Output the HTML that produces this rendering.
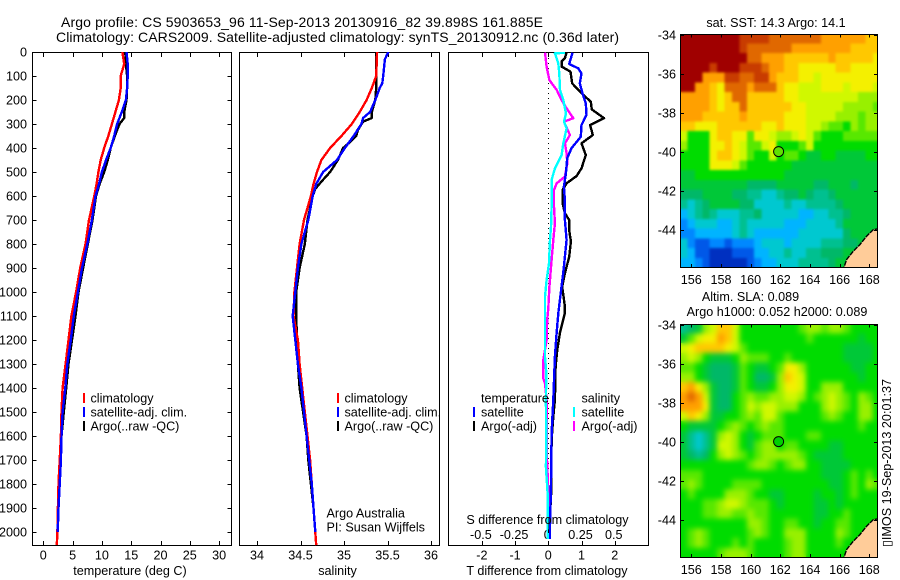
<!DOCTYPE html>
<html lang="en">
<head>
<meta charset="utf-8">
<title>Argo profile chart</title>
<style>
html,body{margin:0;padding:0;background:#fff;width:900px;height:580px;overflow:hidden}
svg{display:block}
text{font-family:"Liberation Sans",sans-serif;font-size:12.6px;fill:#000}
.ttl{font-size:14px}
.frame{fill:none;stroke:#000;stroke-width:1;shape-rendering:crispEdges}
.tick{stroke:#000;stroke-width:1;shape-rendering:crispEdges}
.line{fill:none;stroke-width:2.4;shape-rendering:crispEdges;stroke-linejoin:round}
</style>
</head>
<body>
<svg id="chart" width="900" height="580" viewBox="0 0 900 580" xmlns="http://www.w3.org/2000/svg">
<defs>
<clipPath id="clip-sst"><rect x="680" y="34" width="198" height="233"/></clipPath>
<clipPath id="clip-sla"><rect x="680" y="324" width="198" height="233"/></clipPath>
<clipPath id="clip-p1"><rect x="32" y="52" width="200" height="494"/></clipPath>
<clipPath id="clip-p2"><rect x="239" y="52" width="201" height="494"/></clipPath>
<clipPath id="clip-p3"><rect x="448" y="52" width="201" height="494"/></clipPath>
<filter id="soft-sst" filterUnits="userSpaceOnUse" x="670" y="24" width="220" height="255" color-interpolation-filters="sRGB">
<feGaussianBlur stdDeviation="1.2" result="b"/>
<feMerge><feMergeNode in="SourceGraphic"/><feMergeNode in="b"/></feMerge>
</filter>
<filter id="soft-sla" filterUnits="userSpaceOnUse" x="670" y="314" width="220" height="255" color-interpolation-filters="sRGB">
<feGaussianBlur stdDeviation="2.6" result="b"/>
<feMerge><feMergeNode in="SourceGraphic"/><feMergeNode in="b"/></feMerge>
</filter>
</defs>

<text class="ttl" x="61" y="27" textLength="482">Argo profile: CS 5903653_96 11-Sep-2013 20130916_82 39.898S 161.885E</text>
<text class="ttl" x="56" y="42" textLength="563">Climatology: CARS2009. Satellite-adjusted climatology: synTS_20130912.nc (0.36d later)</text>

<g id="layer-p1"></g>
<g id="layer-p2"></g>
<g id="layer-p3"></g>
<g id="layer-sst"></g>
<g id="layer-sla"></g>

<text x="130" y="575" text-anchor="middle">temperature (deg C)</text>
<text x="337.500" y="575" text-anchor="middle">salinity</text>
<text x="547" y="575" text-anchor="middle">T difference from climatology</text>
<text x="547.500" y="524" text-anchor="middle">S difference from climatology</text>

<g>
<rect x="83" y="393" width="2" height="10" fill="#ff0000"/>
<rect x="83" y="407" width="2" height="10" fill="#0000ff"/>
<rect x="83" y="421" width="2" height="10" fill="#000"/>
<text x="90.500" y="402.500">climatology</text>
<text x="90.500" y="416.500">satellite-adj. clim.</text>
<text x="90.500" y="430.500">Argo(..raw -QC)</text>
</g>
<g>
<rect x="337" y="393" width="2" height="10" fill="#ff0000"/>
<rect x="337" y="407" width="2" height="10" fill="#0000ff"/>
<rect x="337" y="421" width="2" height="10" fill="#000"/>
<text x="344.500" y="402.500">climatology</text>
<text x="344.500" y="416.500">satellite-adj. clim.</text>
<text x="344.500" y="430.500">Argo(..raw -QC)</text>
<text x="326.500" y="517.500">Argo Australia</text>
<text x="326.500" y="531.500">PI: Susan Wijffels</text>
</g>
<g>
<text x="481" y="402.500">temperature</text>
<rect x="473" y="407" width="2" height="10" fill="#0000ff"/>
<rect x="473" y="421" width="2" height="10" fill="#000"/>
<text x="481" y="416.500">satellite</text>
<text x="481" y="430.500">Argo(-adj)</text>
<text x="581.500" y="402.500">salinity</text>
<rect x="573" y="407" width="2" height="10" fill="#00ffff"/>
<rect x="573" y="421" width="2" height="10" fill="#ff00ff"/>
<text x="581.500" y="416.500">satellite</text>
<text x="581.500" y="430.500">Argo(-adj)</text>
</g>

<text x="776" y="27" text-anchor="middle">sat. SST: 14.3 Argo: 14.1</text>
<text x="750.500" y="301" text-anchor="middle">Altim. SLA: 0.089</text>
<text x="777" y="316" text-anchor="middle">Argo h1000: 0.052 h2000: 0.089</text>
<text transform="translate(891 547) rotate(-90)">▯IMOS 19-Sep-2013 20:01:37</text>
</svg>

<script>
// ---------- chart data ----------
const depthTicks = [0,100,200,300,400,500,600,700,800,900,1000,1100,1200,1300,1400,1500,1600,1700,1800,1900,2000];
const tempTicks = [0,5,10,15,20,25,30];
const salTicks = [34,34.5,35,35.5,36];
const dTempTicks = [-2,-1,0,1,2];
const dSalTicks = [-0.5,-0.25,0,0.25,0.5];
const lonTicks = [156,158,160,162,164,166,168];
const latTicks = [-34,-36,-38,-40,-42,-44];

const tempClimDepth = [0,50,100,150,200,250,300,350,400,450,500,550,600,700,800,900,1000,1100,1200,1300,1400,1500,1600,1700,1800,1900,2000,2055];
const tempClim = [13.5,13.8,13.2,13.2,12.9,12.3,11.7,11.1,10.4,9.8,9.4,9.1,8.7,7.8,7.2,6.3,5.6,4.8,4.3,3.8,3.3,3.1,3.0,2.8,2.6,2.5,2.4,2.3];
const tempSatDepth = [0,50,100,150,200,250,300,350,400,450,500,550,600,700,800,900,1000,1100,1200,1300,1400,1500,1600,1700,1800,1900,2000];
const tempSat = [14.2,14.4,14.4,14.3,14.1,13.4,12.6,12.1,11.5,10.7,10.0,9.5,8.9,8.3,7.5,6.6,5.9,5.2,4.7,4.1,3.75,3.3,3.1,3.0,2.8,2.6,2.45];
const tempArgoDepth = [0,50,100,150,200,250,275,300,350,400,450,500,550,600,700,800,900,1000,1100,1200,1300,1400,1500,1600,1700,1800,1900,2000];
const tempArgo = [14.0,14.1,14.3,14.3,14.2,13.8,13.8,13.0,12.2,11.5,11.0,10.4,9.6,9.0,8.4,7.6,6.8,6.0,5.5,4.9,4.3,3.9,3.5,3.1,3.0,2.8,2.6,2.45];

const salClimDepth = [0,100,130,150,200,250,300,350,400,450,500,550,600,700,800,900,1000,1100,1200,1300,1400,1500,1600,1700,1800,1900,2000,2055];
const salClim = [35.38,35.37,35.34,35.32,35.26,35.18,35.09,34.97,34.84,34.74,34.69,34.65,34.62,34.54,34.49,34.46,34.43,34.42,34.47,34.49,34.52,34.55,34.58,34.61,34.63,34.65,34.67,34.68];
const salSatDepth = [0,30,100,130,150,200,250,275,300,350,400,450,500,550,600,700,800,900,1000,1100,1200,1300,1400,1500,1600,1700,1800,1900,2000];
const salSat = [35.51,35.47,35.45,35.44,35.41,35.36,35.30,35.22,35.20,35.11,35.01,34.92,34.76,34.68,34.64,34.59,34.51,34.47,34.44,34.41,34.44,34.47,34.51,34.54,34.57,34.60,34.63,34.65,34.67];
const salArgoDepth = [0,100,150,200,250,275,290,325,350,375,400,450,500,540,570,600,700,800,900,1000,1100,1200,1300,1400,1500,1600,1700,1800,1900,2000];
const salArgo = [35.37,35.37,35.37,35.36,35.32,35.32,35.22,35.16,35.14,35.07,34.99,34.93,34.84,34.74,34.67,34.64,34.58,34.55,34.49,34.45,34.45,34.46,34.47,34.49,34.53,34.57,34.59,34.62,34.65,34.67];

const dTempArgoDepth = [3,26,40,61,82,131,172,207,239,276,304,346,381,429,485,517,547,575,631,672,700,742,790,853,922,978,1061,1088,1116,1171,1241,1310,1449,1519,1616,1824,1935,2005];
const dTempArgo = [0.55,0.5,0.4,0.4,0.67,0.72,1.0,1.28,1.31,1.68,1.26,1.34,1.0,1.13,1.0,0.85,0.55,0.43,0.43,0.5,0.63,0.63,0.68,0.63,0.5,0.42,0.5,0.5,0.45,0.35,0.27,0.22,0.2,0.15,0.1,0.09,0.05,0.03];
const dTempSatDepth = [3,50,68,89,131,172,214,262,304,353,401,443,506,561,617,700,783,853,922,1033,1089,1172,1269,1449,1588,1796,1977,2030];
const dTempSat = [0.73,0.63,0.9,1.0,0.95,1.03,1.13,1.15,1.0,0.98,0.7,0.57,0.53,0.47,0.5,0.5,0.55,0.5,0.45,0.35,0.3,0.25,0.2,0.15,0.1,0.08,0.05,0.05];
const dSalSatDepth = [3,6,47,89,158,200,256,290,318,381,429,485,533,644,728,783,881,950,1019,1068,1269,1339,1449,1644,1727,1838,1991,2030];
const dSalSat = [0.125,0.05,0.075,0.083,0.088,0.113,0.133,0.118,0.138,0.113,0.1,0.05,0.025,0.025,0.02,0.013,0.005,-0.013,-0.025,-0.025,-0.025,-0.015,-0.018,-0.015,-0.018,-0.005,-0.005,-0.005];
const dSalArgoDepth = [3,61,117,158,200,235,276,290,346,381,422,464,519,547,575,644,714,783,867,978,1068,1116,1200,1283,1359,1380,1449,1658,1830,1991];
const dSalArgo = [-0.025,-0.013,0.008,0.063,0.1,0.138,0.188,0.118,0.163,0.125,0.138,0.143,0.125,0.063,0.043,0.043,0.05,0.038,0.025,0.008,0,-0.008,-0.013,-0.038,-0.038,-0.025,-0.013,-0.013,0,0];

// map cells: one letter = one colour level, each cell 0.5 deg
const sstRows = [
"aaaaaaaabbbbcccccccddddddee","aaaaaaaabccccccddddddddeeee","aaaaaaaaaccdddeeeeeedeeeeef","aaaabaaabbbcddeefffffeeffff",
"aaadddbbccbbdeeeffgffffffff","aaddefcccdccceffgggfffgfffg","ddddefecceeeeeffgggggggghhh","ddddefeeceeeeeeffggggghhhhi",
"dddeeeeedeeeeefffgggghhhihh","eefffeeeeeeffefffgghiijhihh","gjjjfeeffiffghhgfgijjjiiiii","hjjjffefgiigfjjjigjjjjjjjjj",
"jjjjfeefgijjgjiijkkjjkkkkjj","jjjjfffgijjjjjjkkkkkkkkkkkk","kkjjjjjjjjjjjjkkkkkkkkkkkkk","kkkkkkkkkllllkkkkkllkkklkkk",
"lllkkkkllmmnnmllklmmlkkkkkk","mnmlkkkkllnnnnmnnmmmmlkkkkk","onmlmnnnmmlnnnnnoonnmmlkkkk","ponnnoonmnnnnnooonnnnmkkkkk",
"ppooooonmnoooooonnnnnnlkkkk","npqqppqpppOnnnonnnnmmmllkkk".toLowerCase(),"noqqrrrqqqoonnmnnmmlllkkkkk","oopqrrrrrqpoonnnmmmmlkkkkkk"];
const slaRows = [
"mlkhgeegjjjjjjjjihhihhijjjj","kigffdegjjjjjjjjjijjjjjjkjj","gfeeeefgijjjjjjjjjjjjjkkkkj","hghjkkkjhiiijjijjjjjjjkkkkj",
"iijklllkijkkjiffhjjjjjjkkjj","hhjklllkijllkhefgjjjjjjjkjj","edfhkllkijkkjhffgjjhhhjjjjj","dcdgklljihiihhgghjihghijhij",
"dddfklljighgghhhjjjhghijhhj","gefhkkjjihiggijjjjjihijjhhj","jkkkkjihijihiijjjjjjjjjjijj","kmnmkhghjkjiiijjjiijjjjjjjj",
"kmnmkgghjkihhjiijjjjkkjjjjj","klmljhghijihhhhhijkkkkjjjjj","jjjjjjjjjihhijihhjjkkkkjjjj","iiijjjjjjjjjjjjjjjjkkkjijij",
"ihijjjjiiiijjjjjjjjjkkjijhi","jijjjjhhhijjkkjjjjkjjkjijjj","jjjiihgghiiijkjjjjkkjkjjjjj","jjjiihhiihiijjjjjjkkjjijjjj",
"jjjjjjjjjhhijjiijjkjjiijjjj","jihijjjjjihijjhhhjjjjhijjjj","jihijjjijijjjjihhjjjjijjjjj","jjjjjihhhijjjjihhjjjjjjjjjj"];
const coastLon = [168.7,168.27,167.82,167.37,166.92,166.47,166.29];
const coastLat = [-43.93,-43.98,-44.32,-44.75,-45.09,-45.52,-45.93];
const argoLon = 161.885;
const argoLat = -39.98;

// ---------- colours ----------
const palette = {a:'#a00000',b:'#c83c00',c:'#e06800',d:'#ffa000',e:'#ffc800',f:'#f4f000',g:'#d0f800',h:'#98f000',i:'#58e800',j:'#00dc00',k:'#00c838',l:'#00b868',m:'#00c090',n:'#00c8d0',o:'#00b4ff',p:'#0088ff',q:'#0058e8',r:'#0030c0'};

// ---------- axis functions ----------
const yDepth = d => 52 + d * 0.24;
const xTemp = t => 43.3 + t * 5.86;
const xSal = s => 257 + (s - 34) * 87;
const xDT = t => 548.3 + t * 33.2;
const xDS = s => 548.3 + s * 132.8;
const xLon = lon => 691.3 + (lon - 156) * 14.83;
const ySst = lat => 35 + (-34 - lat) * 19.5;
const ySla = lat => 325 + (-34 - lat) * 19.5;

const NS = 'http://www.w3.org/2000/svg';
function make(tag, parent, name, attrs) {
  const el = document.createElementNS(NS, tag);
  
  
  for (const k in attrs) el.setAttribute(k, attrs[k]);
  parent.appendChild(el);
  return el;
}
function label(parent, name, x, y, str, anchor) {
  const t = make('text', parent, name, {x: x, y: y, 'text-anchor': anchor});
  t.textContent = str;
}
function tick(parent, name, x1, y1, x2, y2) {
  make('line', parent, name, {class: 'tick', x1: x1, y1: y1, x2: x2, y2: y2});
}
function series(parent, name, depths, values, xf, color, clip) {
  const pts = values.map((v, i) => xf(v).toFixed(1) + ',' + yDepth(depths[i]).toFixed(1)).join(' ');
  make('polyline', parent, name, {class: 'line', points: pts, stroke: color, 'clip-path': 'url(#' + clip + ')'});
}
function frame(parent, x, y, w, h) {
  make('rect', parent, 'panel-frame', {class: 'frame', x: x, y: y, width: w, height: h});
}

// ---------- temperature panel ----------
const p1 = document.getElementById('layer-p1');
frame(p1, 32.5, 52.5, 199, 493);
depthTicks.forEach(d => {
  const y = Math.round(yDepth(d)) + 0.5;
  tick(p1, 'depth-tick', 32.5, y, 36.5, y);
  tick(p1, 'depth-tick', 227.5, y, 231.5, y);
  label(p1, 'depth-tick-label', 27, yDepth(d) + 4.5, String(d), 'end');
});
tempTicks.forEach(t => {
  const x = Math.round(xTemp(t)) + 0.5;
  tick(p1, 'temperature-tick', x, 52.5, x, 57);
  tick(p1, 'temperature-tick', x, 541, x, 545.5);
  label(p1, 'temperature-tick-label', xTemp(t), 559.5, String(t), 'middle');
});
series(p1, 'temperature-argo-line', tempArgoDepth, tempArgo, xTemp, '#000', 'clip-p1');
series(p1, 'temperature-climatology-line', tempClimDepth, tempClim, xTemp, '#ff0000', 'clip-p1');
series(p1, 'temperature-satellite-line', tempSatDepth, tempSat, xTemp, '#0000ff', 'clip-p1');

// ---------- salinity panel ----------
const p2 = document.getElementById('layer-p2');
frame(p2, 239.5, 52.5, 200, 493);
salTicks.forEach(s => {
  const x = Math.round(xSal(s)) + 0.5;
  tick(p2, 'salinity-tick', x, 52.5, x, 57);
  tick(p2, 'salinity-tick', x, 541, x, 545.5);
  label(p2, 'salinity-tick-label', xSal(s), 559.5, String(s), 'middle');
});
series(p2, 'salinity-argo-line', salArgoDepth, salArgo, xSal, '#000', 'clip-p2');
series(p2, 'salinity-climatology-line', salClimDepth, salClim, xSal, '#ff0000', 'clip-p2');
series(p2, 'salinity-satellite-line', salSatDepth, salSat, xSal, '#0000ff', 'clip-p2');

// ---------- difference panel ----------
const p3 = document.getElementById('layer-p3');
frame(p3, 448.5, 52.5, 200, 493);
make('line', p3, 'zero-reference-line', {x1: 548.5, y1: 53, x2: 548.5, y2: 545, stroke: '#000', 'stroke-dasharray': '1 4', 'shape-rendering': 'crispEdges'});
dTempTicks.forEach(t => {
  const x = Math.round(xDT(t)) + 0.5;
  tick(p3, 't-difference-tick', x, 52.5, x, 57);
  tick(p3, 't-difference-tick', x, 541, x, 545.5);
  label(p3, 't-difference-tick-label', xDT(t), 559.5, String(t), 'middle');
});
dSalTicks.forEach(s => {
  label(p3, 's-difference-tick-label', xDS(s) - 1, 539, String(s), 'middle');
});
series(p3, 's-difference-argo-line', dSalArgoDepth, dSalArgo, xDS, '#ff00ff', 'clip-p3');
series(p3, 's-difference-satellite-line', dSalSatDepth, dSalSat, xDS, '#00ffff', 'clip-p3');
series(p3, 't-difference-argo-line', dTempArgoDepth, dTempArgo, xDT, '#000', 'clip-p3');
series(p3, 't-difference-satellite-line', dTempSatDepth, dTempSat, xDT, '#0000ff', 'clip-p3');

// ---------- maps ----------
function drawMap(layerId, rows, yLat, clipId, top, markerFill, prefix) {
  const g = document.getElementById(layerId);
  const clipped = make('g', g, prefix + '-heatmap-clip', {'clip-path': 'url(#' + clipId + ')'});
  const cells = make('g', clipped, prefix + '-heatmap', {filter: 'url(#soft-' + prefix + ')', 'shape-rendering': 'crispEdges'});
  rows.forEach((row, r) => {
    [...row].forEach((level, c) => {
      const lon0 = 155.24 + c * 0.5, lat0 = -33.93 - r * 0.5;
      const x0 = xLon(lon0), x1 = xLon(lon0 + 0.5), y0 = yLat(lat0), y1 = yLat(lat0 - 0.5);
      make('rect', cells, prefix + '-cell', {x: x0.toFixed(2), y: y0.toFixed(2), width: (x1 - x0 + 0.5).toFixed(2), height: (y1 - y0 + 0.5).toFixed(2), fill: palette[level]});
    });
  });
  const coast = coastLon.map((lon, i) => xLon(lon).toFixed(1) + ',' + yLat(coastLat[i]).toFixed(1));
  const landPts = coast.concat([xLon(168.7).toFixed(1) + ',' + yLat(-46).toFixed(1)]).join(' ');
  const clipAttr = 'url(#' + clipId + ')';
  make('polygon', g, prefix + '-land', {points: landPts, fill: '#ffcc99', 'clip-path': clipAttr});
  make('polyline', g, prefix + '-coastline', {points: coast.join(' '), fill: 'none', stroke: '#000', 'stroke-width': 1.4, 'stroke-dasharray': '5 1', 'clip-path': clipAttr});
  frame(g, 680.5, top + 0.5, 197, 233);
  lonTicks.forEach(lon => {
    const x = Math.round(xLon(lon)) + 0.5;
    tick(g, 'longitude-tick', x, top, x, top + 3.5);
    tick(g, 'longitude-tick', x, top + 230, x, top + 233);
    label(g, 'longitude-tick-label', xLon(lon), top + 250, String(lon), 'middle');
  });
  latTicks.forEach(lat => {
    const y = Math.round(yLat(lat)) + 0.5;
    tick(g, 'latitude-tick', 680.5, y, 684, y);
    tick(g, 'latitude-tick', 874, y, 877.5, y);
    label(g, 'latitude-tick-label', 676, yLat(lat) + 4.5, String(lat), 'end');
  });
  make('circle', g, 'argo-position-marker', {cx: xLon(argoLon).toFixed(1), cy: yLat(argoLat).toFixed(1), r: 5, fill: markerFill, stroke: '#000', 'stroke-width': 1});
}
drawMap('layer-sst', sstRows, ySst, 'clip-sst', 34, '#60e000', 'sst');
drawMap('layer-sla', slaRows, ySla, 'clip-sla', 324, '#00d000', 'sla');
</script>
</body>
</html>
